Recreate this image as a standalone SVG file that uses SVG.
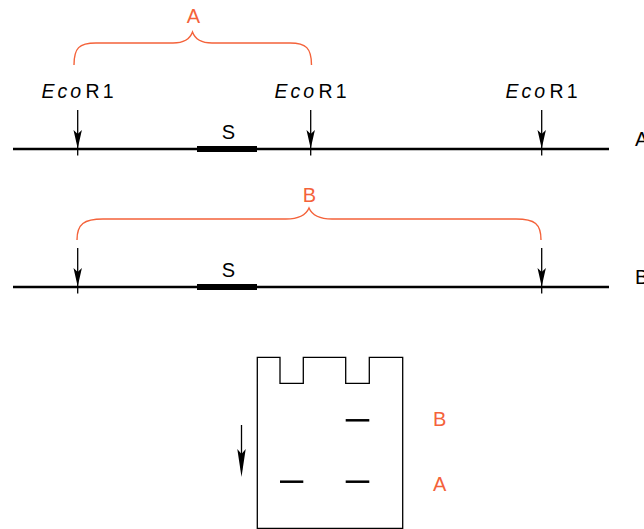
<svg xmlns="http://www.w3.org/2000/svg" width="644" height="529" viewBox="0 0 644 529">
<style>
.dna{stroke:#000;stroke-width:2.6;fill:none}
.seg{stroke:#000;stroke-width:6;fill:none}
.ar{stroke:#000;stroke-width:1.3;fill:none}
.hd{fill:#000;stroke:none}
.br{stroke:#f4623a;stroke-width:1.4;fill:none}
.lbl{font-family:"Liberation Sans",Arial,sans-serif;font-size:20px;fill:#000}
.eco{font-family:"Liberation Sans",Arial,sans-serif;font-size:19.5px;fill:#000;letter-spacing:3px}
.org{font-family:"Liberation Sans",Arial,sans-serif;font-size:20px;fill:#f4623a}
.side{font-family:"Liberation Sans",Arial,sans-serif;font-size:20px;fill:#000}
.gel{stroke:#000;stroke-width:1.3;fill:none}
.band{stroke:#000;stroke-width:2.5}
</style>
<defs>
<path id="head" d="M0,0 L-4.2,-18.5 L0,-14.5 L4.2,-18.5 Z"/>
</defs>

<g id="dnaA">
<line class="dna" x1="13" y1="149" x2="609" y2="149"/>
<line class="seg" x1="197" y1="149" x2="257" y2="149"/>
<text class="lbl" x="228.3" y="139" text-anchor="middle">S</text>
<text class="side" x="635" y="145.5">A</text>
</g>

<g id="dnaB">
<line class="dna" x1="13" y1="287" x2="609" y2="287"/>
<line class="seg" x1="197" y1="287" x2="257" y2="287"/>
<text class="lbl" x="228.3" y="277" text-anchor="middle">S</text>
<text class="side" x="635" y="283.5">B</text>
</g>

<g id="sites">
<text class="eco" x="41.5" y="98"><tspan font-style="italic">Eco</tspan><tspan dx="1.5">R1</tspan></text>
<text class="eco" x="274.5" y="98"><tspan font-style="italic">Eco</tspan><tspan dx="1.5">R1</tspan></text>
<text class="eco" x="505.5" y="98"><tspan font-style="italic">Eco</tspan><tspan dx="1.5">R1</tspan></text>
</g>

<g id="braceA">
<path class="br" d="M74,65 C74,48 79,43 96,43 L173,43 C185,43 190,39 192.5,32 C195,39 200,43 212,43 L290,43 C306,43 311.5,48 311.5,65"/>
<text class="org" x="193.3" y="22.7" text-anchor="middle">A</text>
</g>

<g id="braceB">
<path class="br" d="M77,240 C77,224 84,219 103,219 L286,219 C300,219 306,215 309,208 C312,215 318,219 332,219 L516,219 C535,219 541,224 541,240"/>
<text class="org" x="309.5" y="201.7" text-anchor="middle">B</text>
</g>

<g id="gel">
<path class="gel" d="M257.3,357.3 H280 V383.3 H303.3 V357.3 H345.7 V383.3 H369.3 V357.3 H402.7 V528.3 H257.3 Z"/>
<line class="band" x1="345.7" y1="420.3" x2="369.3" y2="420.3"/>
<line class="band" x1="280" y1="481.7" x2="303.3" y2="481.7"/>
<line class="band" x1="345.7" y1="481.7" x2="369.3" y2="481.7"/>
<text class="org" x="433" y="426">B</text>
<text class="org" x="433" y="490.7">A</text>
</g>

<g id="connectors">
<line class="ar" x1="77.7" y1="110" x2="77.7" y2="155.5"/>
<use href="#head" class="hd" transform="translate(77.7,148.5)"/>
<line class="ar" x1="310.7" y1="110" x2="310.7" y2="155.5"/>
<use href="#head" class="hd" transform="translate(310.7,148.5)"/>
<line class="ar" x1="541.7" y1="110" x2="541.7" y2="155.5"/>
<use href="#head" class="hd" transform="translate(541.7,148.5)"/>
<line class="ar" x1="77.7" y1="248" x2="77.7" y2="293.5"/>
<use href="#head" class="hd" transform="translate(77.7,286.5)"/>
<line class="ar" x1="541.7" y1="248" x2="541.7" y2="293.5"/>
<use href="#head" class="hd" transform="translate(541.7,286.5)"/>
<line class="ar" x1="241.5" y1="425" x2="241.5" y2="470"/>
<path class="hd" d="M241.5,477 L237.3,449 L241.5,454 L245.7,449 Z"/>
</g>
</svg>
